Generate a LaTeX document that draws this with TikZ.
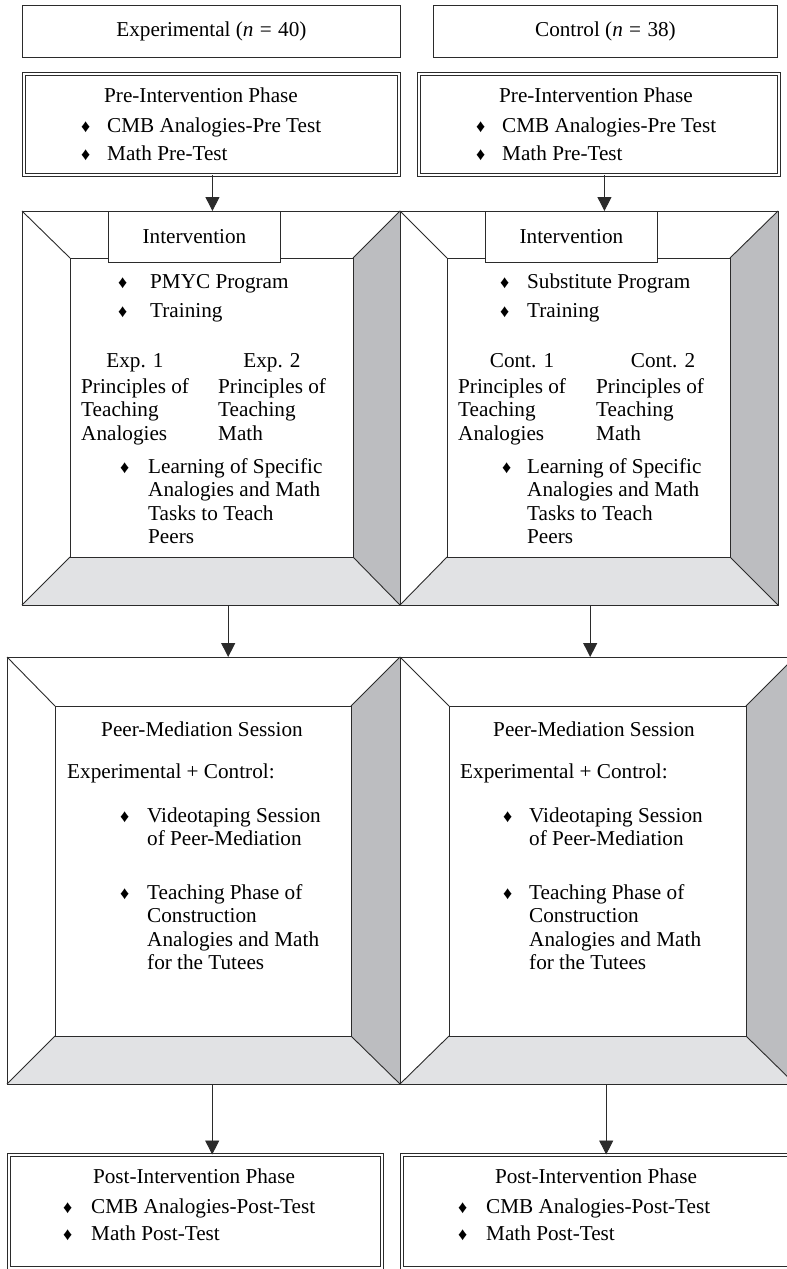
\documentclass[tikz,border=0pt]{standalone}
\usepackage{fontspec}
\setmainfont{Liberation Serif}
\usetikzlibrary{arrows.meta}
\definecolor{lc}{HTML}{2B2B2B}
\definecolor{dg}{HTML}{BCBDC0}
\definecolor{lg}{HTML}{E1E2E4}
\newcommand\dmd{{\fontsize{18}{18}\selectfont ♦}}
\newcommand\lns[1]{\begin{tabular}[t]{@{}l@{}}#1\end{tabular}}
\newcommand\eqs{\hspace{0.3em}=\hspace{0.3em}}
\newcommand\bevelframe[8]{%
  \fill[dg] (#3,#2) -- (#7,#6) -- (#7,#8) -- (#3,#4) -- cycle;
  \fill[lg] (#1,#4) -- (#5,#8) -- (#7,#8) -- (#3,#4) -- cycle;
  \draw[frm] (#1,#2) rectangle (#3,#4);
  \draw[frm] (#5,#6) rectangle (#7,#8);
  \draw[frm] (#1,#2) -- (#5,#6) (#3,#2) -- (#7,#6) (#1,#4) -- (#5,#8) (#3,#4) -- (#7,#8);
}
\tikzset{
  frm/.style={draw=lc, line width=0.9pt},
  box/.style={draw=lc, line width=0.9pt, anchor=north west, inner sep=0pt,
    font=\fontsize{21.2}{23.5}\selectfont},
  dbox/.style={draw=lc, double, double distance=2.2pt, line width=0.9pt,
    anchor=north west, inner sep=0pt},
  area/.style={anchor=north west, inner sep=0pt},
  tx/.style={anchor=base west, inner sep=0pt, font=\fontsize{21.2}{23.5}\selectfont},
  txc/.style={tx, anchor=base},
  arr/.style={draw=lc, line width=0.9pt, -{Triangle[width=14pt,length=14pt]}},
}
\begin{document}
\begin{tikzpicture}[x=1pt,y=-1pt]
\useasboundingbox (0,0) rectangle (787,1269);
\clip (0,0) rectangle (787,1269);
\fill[white] (0,0) rectangle (787,1269);

% ---------- top group boxes
\node[box, minimum width=378pt, minimum height=52pt] (expB) at (22,5) {Experimental (\textit{n}\eqs40)};
\node[box, minimum width=344pt, minimum height=52pt] (conB) at (433,5) {Control (\textit{n}\eqs38)};

% ---------- pre-intervention
\node[dbox, minimum width=375pt, minimum height=101pt] (preL) at (23.5,73.5) {};
\node[dbox, minimum width=360pt, minimum height=101pt] (preR) at (418.5,73.5) {};

\node[txc] (preLt) at (201,102) {Pre-Intervention Phase};
\node[tx] (preLd1) at (81,132) {\dmd};
\node[tx] (preLi1) at (107,132) {CMB Analogies-Pre Test};
\node[tx] (preLd2) at (81,160) {\dmd};
\node[tx] (preLi2) at (107,160) {Math Pre-Test};

\node[txc] (preRt) at (596,102) {Pre-Intervention Phase};
\node[tx] (preRd1) at (476,132) {\dmd};
\node[tx] (preRi1) at (502,132) {CMB Analogies-Pre Test};
\node[tx] (preRd2) at (476,160) {\dmd};
\node[tx] (preRi2) at (502,160) {Math Pre-Test};

% ---------- intervention frames
\node[area, minimum width=378pt, minimum height=394pt] (intL) at (22,211) {};
\node[area, minimum width=378pt, minimum height=394pt] (intR) at (400,211) {};
\bevelframe{22}{211}{400}{605}{70}{258}{353}{557}
\bevelframe{400}{211}{778}{605}{447}{258}{730}{557}

\node[box, fill=white, minimum width=172pt, minimum height=51pt] (ivL) at (108,211) {Intervention};
\node[box, fill=white, minimum width=172pt, minimum height=51pt] (ivR) at (485,211) {Intervention};

% left intervention content
\node[tx] (iLd1) at (118,288) {\dmd};
\node[tx] (iLi1) at (150,288) {PMYC Program};
\node[tx] (iLd2) at (118,317) {\dmd};
\node[tx] (iLi2) at (150,317) {Training};
\node[txc] (iLe1) at (135,367) {Exp. 1};
\node[txc] (iLe2) at (272,367) {Exp. 2};
\node[tx] (iLc1) at (81,393) {\lns{Principles of\\Teaching\\Analogies}};
\node[tx] (iLc2) at (218,393) {\lns{Principles of\\Teaching\\Math}};
\node[tx] (iLd3) at (120,473) {\dmd};
\node[tx] (iLi3) at (148,473) {\lns{Learning of Specific\\Analogies and Math\\Tasks to Teach\\Peers}};

% right intervention content
\node[tx] (iRd1) at (500,288) {\dmd};
\node[tx] (iRi1) at (527,288) {Substitute Program};
\node[tx] (iRd2) at (500,317) {\dmd};
\node[tx] (iRi2) at (527,317) {Training};
\node[txc] (iRe1) at (522,367) {Cont. 1};
\node[txc] (iRe2) at (663,367) {Cont. 2};
\node[tx] (iRc1) at (458,393) {\lns{Principles of\\Teaching\\Analogies}};
\node[tx] (iRc2) at (596,393) {\lns{Principles of\\Teaching\\Math}};
\node[tx] (iRd3) at (502,473) {\dmd};
\node[tx] (iRi3) at (527,473) {\lns{Learning of Specific\\Analogies and Math\\Tasks to Teach\\Peers}};

% ---------- peer mediation frames
\node[area, minimum width=393pt, minimum height=427pt] (peerL) at (7,657) {};
\node[area, minimum width=395pt, minimum height=427pt] (peerR) at (400,657) {};
\bevelframe{7}{657}{400}{1084}{55}{706}{351}{1036}
\bevelframe{400}{657}{795}{1084}{449}{706}{746}{1036}

\node[txc] (pLt) at (202,736) {Peer-Mediation Session};
\node[tx] (pLs) at (67,778) {Experimental + Control:};
\node[tx] (pLd1) at (120,822) {\dmd};
\node[tx] (pLi1) at (147,822) {\lns{Videotaping Session\\of Peer-Mediation}};
\node[tx] (pLd2) at (120,899) {\dmd};
\node[tx] (pLi2) at (147,899) {\lns{Teaching Phase of\\Construction\\Analogies and Math\\for the Tutees}};

\node[txc] (pRt) at (594,736) {Peer-Mediation Session};
\node[tx] (pRs) at (460,778) {Experimental + Control:};
\node[tx] (pRd1) at (503,822) {\dmd};
\node[tx] (pRi1) at (529,822) {\lns{Videotaping Session\\of Peer-Mediation}};
\node[tx] (pRd2) at (503,899) {\dmd};
\node[tx] (pRi2) at (529,899) {\lns{Teaching Phase of\\Construction\\Analogies and Math\\for the Tutees}};

% ---------- post-intervention
\node[dbox, minimum width=373pt, minimum height=113pt] (postL) at (8.5,1154.5) {};
\node[dbox, minimum width=400pt, minimum height=113pt] (postR) at (401.5,1154.5) {};

\node[txc] (poLt) at (194,1183) {Post-Intervention Phase};
\node[tx] (poLd1) at (63,1213) {\dmd};
\node[tx] (poLi1) at (91,1213) {CMB Analogies-Post-Test};
\node[tx] (poLd2) at (63,1240) {\dmd};
\node[tx] (poLi2) at (91,1240) {Math Post-Test};

\node[txc] (poRt) at (596,1183) {Post-Intervention Phase};
\node[tx] (poRd1) at (458,1213) {\dmd};
\node[tx] (poRi1) at (486,1213) {CMB Analogies-Post-Test};
\node[tx] (poRd2) at (458,1240) {\dmd};
\node[tx] (poRi2) at (486,1240) {Math Post-Test};

% ---------- arrows
\draw[arr] ([xshift=1pt]preL.south) -- ([xshift=1pt]preL.south |- intL.north);
\draw[arr] ([xshift=5.5pt]preR.south) -- ([xshift=5.5pt]preR.south |- intR.north);
\draw[arr] ([xshift=17pt]intL.south) -- ([xshift=17pt]intL.south |- peerL.north);
\draw[arr] ([xshift=1pt]intR.south) -- ([xshift=1pt]intR.south |- peerR.north);
\draw[arr] ([xshift=8.5pt]peerL.south) -- ([xshift=8.5pt]peerL.south |- postL.north);
\draw[arr] ([xshift=8.5pt]peerR.south) -- ([xshift=8.5pt]peerR.south |- postR.north);
\end{tikzpicture}
\end{document}
